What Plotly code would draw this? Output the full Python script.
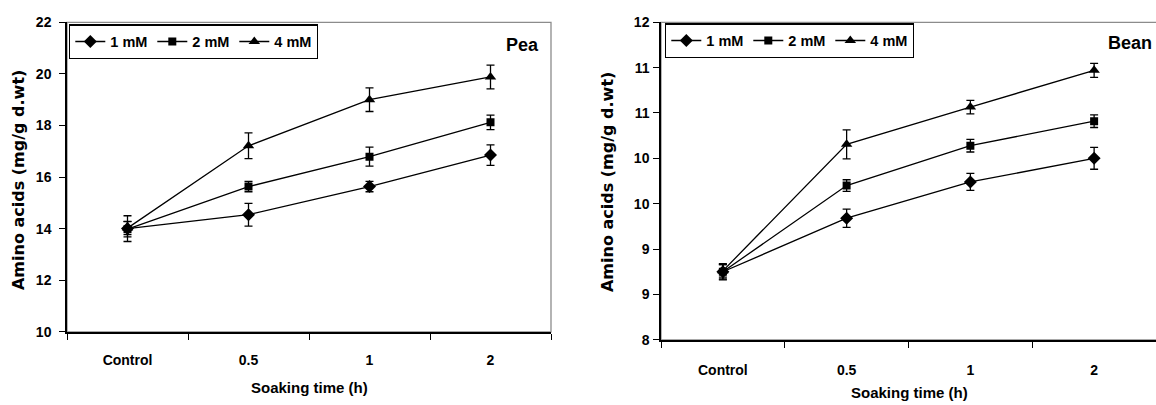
import plotly.graph_objects as go

# ---------------- data ----------------
categories = ["Control", "0.5", "1", "2"]
series_names = ["1 mM", "2 mM", "4 mM"]

pea_1mM = [14.00, 14.54, 15.63, 16.85]
pea_2mM = [13.98, 15.63, 16.79, 18.12]
pea_4mM = [14.02, 17.21, 19.00, 19.88]
pea_1mM_err = [0.50, 0.44, 0.20, 0.40]
pea_2mM_err = [0.30, 0.20, 0.37, 0.28]
pea_4mM_err = [0.25, 0.50, 0.46, 0.46]

bean_1mM = [8.75, 9.34, 9.74, 10.00]
bean_2mM = [8.75, 9.70, 10.14, 10.41]
bean_4mM = [8.76, 10.155, 10.565, 10.97]
bean_1mM_err = [0.09, 0.10, 0.094, 0.12]
bean_2mM_err = [0.08, 0.064, 0.07, 0.07]
bean_4mM_err = [0.07, 0.16, 0.075, 0.077]

pea_yticks = [10, 12, 14, 16, 18, 20, 22]
bean_yticks = [8, 8.5, 9, 9.5, 10, 10.5, 11, 11.5]
bean_yticklabels = ["8", "9", "9", "10", "10", "11", "11", "12"]

# ---------------- style ----------------
W, H = 1156, 405
FONT = "Liberation Sans, Arial, sans-serif"
WIDE = "DejaVu Sans, Liberation Sans, Arial, sans-serif"
symbols = ["diamond", "square", "triangle-up"]
msizes = [10, 8, 10]


def px_x(v):
    return v / W


def px_y(v):
    # target pixel row -> paper fraction (compensates the capture's vertical mapping)
    v = (v - 7.7) / 0.962
    return 1 - v / H


fig = go.Figure()

pea_vals = [pea_1mM, pea_2mM, pea_4mM]
pea_errs = [pea_1mM_err, pea_2mM_err, pea_4mM_err]
bean_vals = [bean_1mM, bean_2mM, bean_4mM]
bean_errs = [bean_1mM_err, bean_2mM_err, bean_4mM_err]

for i, name in enumerate(series_names):
    fig.add_trace(go.Scatter(
        x=categories, y=pea_vals[i], name=name, mode="lines+markers",
        line=dict(color="black", width=1.3),
        marker=dict(symbol=symbols[i], size=msizes[i], color="black"),
        error_y=dict(type="data", array=pea_errs[i], color="black", thickness=1.3, width=4),
        xaxis="x", yaxis="y", legend="legend",
    ))
for i, name in enumerate(series_names):
    fig.add_trace(go.Scatter(
        x=categories, y=bean_vals[i], name=name, mode="lines+markers",
        line=dict(color="black", width=1.3),
        marker=dict(symbol=symbols[i], size=msizes[i], color="black"),
        error_y=dict(type="data", array=bean_errs[i], color="black", thickness=1.3, width=4),
        xaxis="x2", yaxis="y2", legend="legend2",
    ))

tickfont = dict(family=FONT, size=14, color="black", weight="bold")
legfont = dict(family=FONT, size=14.5, color="black", weight="bold")

# plot areas in pixels
L = dict(x0=67, x1=551, y0=22, y1=332)
R = dict(x0=661, x1=1158, y0=22, y1=340)

common_x = dict(type="category", tickson="boundaries", showline=True, linecolor="black",
                linewidth=1.5, ticks="outside", ticklen=6, tickcolor="black", tickwidth=1.3,
                showgrid=False, zeroline=False, tickfont=tickfont, range=[-0.5, 3.5],
                fixedrange=True)
common_y = dict(showline=True, linecolor="black", linewidth=1.5, ticks="outside", ticklen=6,
                tickcolor="black", tickwidth=1.3, showgrid=False, zeroline=False,
                tickfont=tickfont, fixedrange=True)

fig.update_layout(
    width=W, height=H,
    margin=dict(l=0, r=0, t=0, b=0),
    paper_bgcolor="white", plot_bgcolor="white",
    showlegend=True,
    xaxis=dict(domain=[px_x(L["x0"]), px_x(L["x1"])], anchor="y", ticklabelstandoff=15, **common_x),
    yaxis=dict(domain=[px_y(L["y1"]), px_y(L["y0"])], anchor="x", range=[10, 22],
               tickvals=pea_yticks, ticklabelstandoff=5, **common_y),
    xaxis2=dict(domain=[px_x(R["x0"]), min(1, px_x(R["x1"]))], anchor="y2", ticklabelstandoff=17, **common_x),
    yaxis2=dict(domain=[px_y(R["y1"]), px_y(R["y0"])], anchor="x2", range=[8, 11.5],
                tickvals=bean_yticks, ticktext=bean_yticklabels, ticklabelstandoff=1, **common_y),
    legend=dict(orientation="h", x=px_x(69), y=px_y(24), xanchor="left", yanchor="top",
                bordercolor="black", borderwidth=1.3, bgcolor="white",
                font=legfont, entrywidth=37, itemwidth=30, tracegroupgap=0),
    legend2=dict(orientation="h", x=px_x(665), y=px_y(23), xanchor="left", yanchor="top",
                 bordercolor="black", borderwidth=1.3, bgcolor="white",
                 font=legfont, entrywidth=37, itemwidth=30, tracegroupgap=0),
    shapes=[
        dict(type="rect", xref="paper", yref="paper", layer="below",
             x0=px_x(L["x0"]), x1=px_x(L["x1"]), y0=px_y(L["y1"]), y1=px_y(L["y0"]),
             line=dict(color="#8c8c8c", width=1.3)),
        dict(type="rect", xref="paper", yref="paper", layer="below",
             x0=px_x(R["x0"]), x1=px_x(R["x1"]), y0=px_y(R["y1"]), y1=px_y(R["y0"]),
             line=dict(color="#8c8c8c", width=1.3)),
    ],
    annotations=[
        dict(text="Pea", x=px_x(522), y=px_y(45), xref="paper", yref="paper", showarrow=False,
             xanchor="center", yanchor="middle",
             font=dict(family=FONT, size=18, color="black", weight="bold")),
        dict(text="Bean", x=px_x(1130), y=px_y(43), xref="paper", yref="paper", showarrow=False,
             xanchor="center", yanchor="middle",
             font=dict(family=FONT, size=18, color="black", weight="bold")),
        dict(text="Soaking time (h)", x=px_x(309), y=px_y(388), xref="paper", yref="paper",
             showarrow=False, xanchor="center", yanchor="middle",
             font=dict(family=FONT, size=15, color="black", weight="bold")),
        dict(text="Soaking time (h)", x=px_x(909), y=px_y(393), xref="paper", yref="paper",
             showarrow=False, xanchor="center", yanchor="middle",
             font=dict(family=FONT, size=15, color="black", weight="bold")),
        dict(text="Amino acids (mg/g d.wt)", x=px_x(18), y=px_y(180), xref="paper", yref="paper",
             showarrow=False, xanchor="center", yanchor="middle", textangle=-90,
             font=dict(family=WIDE, size=16, color="black", weight="bold")),
        dict(text="Amino acids (mg/g d.wt)", x=px_x(607), y=px_y(182), xref="paper", yref="paper",
             showarrow=False, xanchor="center", yanchor="middle", textangle=-90,
             font=dict(family=WIDE, size=16, color="black", weight="bold")),
    ],
)

fig.write_html(
    "out.html",
    config={"displayModeBar": False},
    post_script="document.documentElement.style.margin='0';document.body.style.margin='0';"
                "document.documentElement.style.overflow='hidden';document.body.style.overflow='hidden';",
)
